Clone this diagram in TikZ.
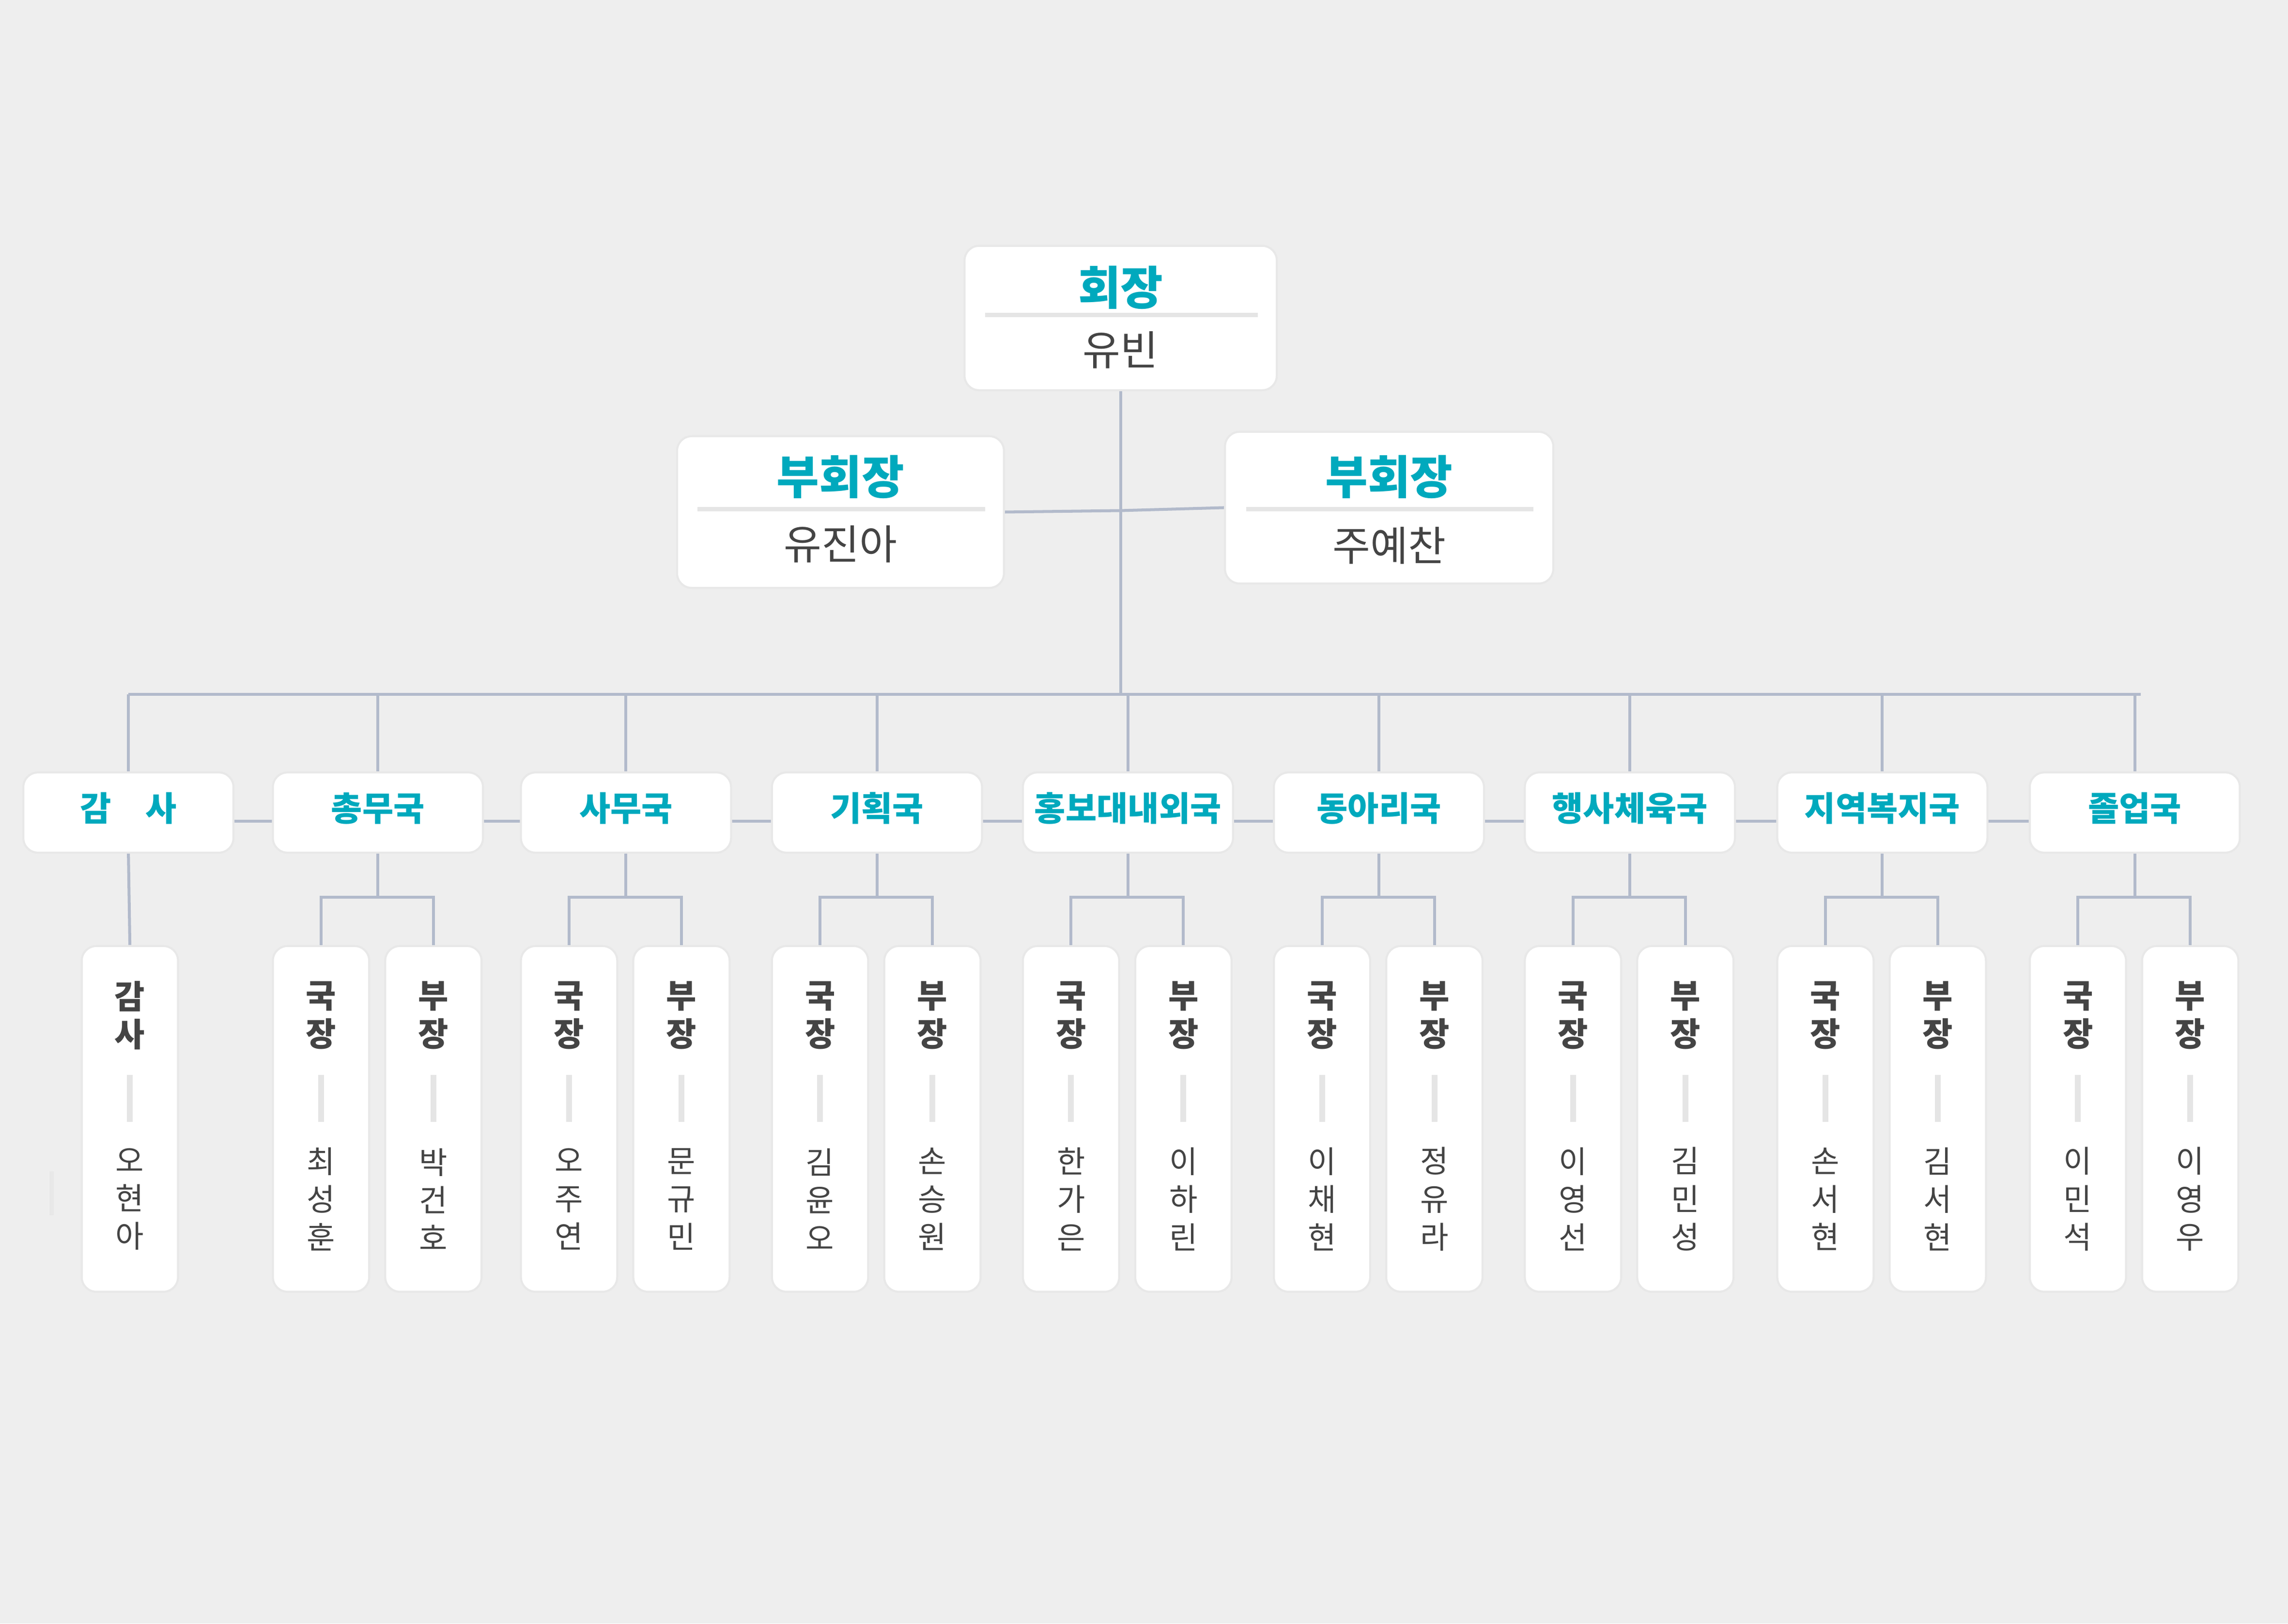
\documentclass[tikz,border=0pt]{standalone}
\usepackage{fontspec}
\setmainfont{Noto Sans CJK KR}
\usetikzlibrary{positioning}
\definecolor{headcol}{HTML}{00A9BD}
\definecolor{ink}{HTML}{444444}
\definecolor{wirecol}{HTML}{B2BACB}
\definecolor{bg}{HTML}{EEEEEE}
\begin{document}
\begin{tikzpicture}[x=0.1mm,y=-0.1mm,
   card/.style={draw=black!9,fill=white,rounded corners=1mm,inner sep=0pt},
   wire/.style={draw=wirecol,line width=0.2mm},
   headtext/.style={text=headcol,font=\bfseries\fontsize{9}{10}\selectfont},
   persontext/.style={text=ink,font=\fontsize{8}{9}\selectfont},
   dtitle/.style={text=headcol,font=\bfseries\fontsize{6.6}{7}\selectfont},
   mtitle/.style={text=ink,font=\bfseries\fontsize{6.4}{7.4}\selectfont,align=center},
   mname/.style={text=ink,font=\fontsize{6}{7.4}\selectfont,align=center}]

   \fill[bg] (0,0) rectangle (1568,1113);
   \fill[black!9] (34,803) rectangle (37,833);

   % top of the tree
   \node[card,minimum width=21.4mm,minimum height=9.9mm] (pres) at (768,218) {};
   \node[headtext] (presT) at (768,197) {회장};
   \node[persontext] (presN) at (768,240) {유빈};
   \draw[black!10,line width=0.3mm] (675,216) -- (862,216);

   \node[card,minimum width=22.4mm,minimum height=10.4mm] (vpL) at (576,351) {};
   \node[headtext] (vpLT) at (576,327) {부회장};
   \node[persontext] (vpLN) at (576,373) {유진아};
   \draw[black!10,line width=0.3mm] (478,349) -- (675,349);

   \node[card,minimum width=22.5mm,minimum height=10.4mm] (vpR) at (952,348) {};
   \node[headtext] (vpRT) at (952,327) {부회장};
   \node[persontext] (vpRN) at (952,374) {주예찬};
   \draw[black!10,line width=0.3mm] (854,349) -- (1051,349);

   \coordinate (hub) at (768,476);
   \coordinate (vpMid) at (768,350);
   \draw[wire] (vpL.east) -- (vpMid) -- (vpR.west);
   \draw[wire] (pres.south) -- (hub);
   \coordinate (busL) at (88,476);
   \coordinate (busR) at (1467,476);
   \draw[wire] (busL) -- (busR);
   \draw[wire] (160,563) -- (1391,563);

   % departments
   \foreach \i/\x/\dept in {1/88/감\quad 사,2/259/총무국,3/429/사무국,4/601/기획국,
         5/773/홍보대내외국,6/945/동아리국,7/1117/행사체육국,8/1290/지역복지국,9/1463/졸업국} {
      \draw[wire] (\x,476) -- (\x,530);
      \node[card,minimum width=14.4mm,minimum height=5.5mm] (d\i) at (\x,557) {};
      \node[dtitle] (d\i T) at (\x,554) {\dept};
   }

   % members
   \node[card,minimum width=6.6mm,minimum height=23.7mm] (m1) at (89,767) {};
   \draw[wire] (d1.south) -- (m1.north);
   \node[mtitle] (m1T) at (89,696) {감\\사};
   \draw[black!10,line width=0.4mm] (89,737) -- (89,769);
   \node[mname] (m1N) at (89,822) {오\\현\\아};

   \foreach \i/\x/\na/\nb in {2/259/최\\성\\훈/박\\건\\호,3/429/오\\주\\연/문\\규\\민,
         4/601/김\\윤\\오/손\\승\\원,5/773/한\\가\\은/이\\하\\린,6/945/이\\채\\현/정\\유\\라,
         7/1117/이\\영\\선/김\\민\\성,8/1290/손\\서\\현/김\\서\\현,9/1463/이\\민\\석/이\\영\\우} {
      \node[card,minimum width=6.6mm,minimum height=23.7mm] (l\i) at (\x-39,767) {};
      \node[card,minimum width=6.6mm,minimum height=23.7mm] (r\i) at (\x+38,767) {};
      \draw[wire] (d\i.south) -- ++(0,30) -| (l\i.north);
      \draw[wire] (d\i.south) ++(0,30) -| (r\i.north);
      \node[mtitle] (l\i T) at (\x-39,696) {국\\장};
      \node[mtitle] (r\i T) at (\x+38,696) {부\\장};
      \draw[black!10,line width=0.4mm] (\x-39,737) -- (\x-39,769);
      \draw[black!10,line width=0.4mm] (\x+38,737) -- (\x+38,769);
      \node[mname] (l\i N) at (\x-39,822) {\na};
      \node[mname] (r\i N) at (\x+38,822) {\nb};
   }

\end{tikzpicture}
\end{document}
